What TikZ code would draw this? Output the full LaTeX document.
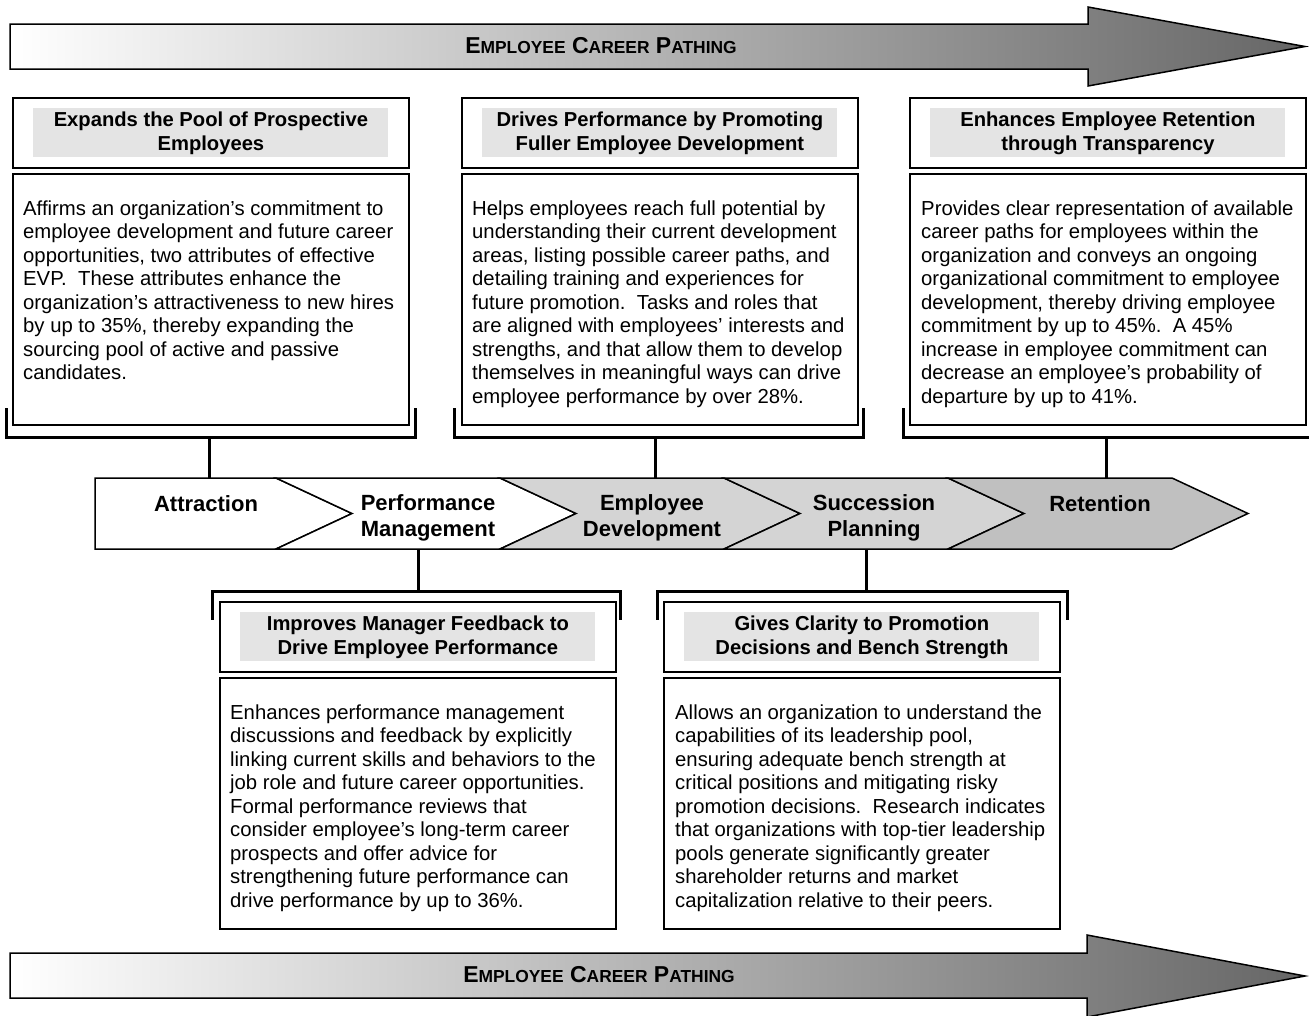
\documentclass[tikz,border=0pt]{standalone}
\usepackage{fontspec}
\setmainfont{Liberation Sans}
\definecolor{bandgray}{HTML}{E4E4E4}
\definecolor{arrowgray}{HTML}{666666}
\definecolor{chevdot}{HTML}{D4D4D4}
\definecolor{chevret}{HTML}{C0C0C0}
\newcommand{\myBody}{\fontsize{20.3}{23.5}\selectfont}
\newcommand{\myHead}{\bfseries\fontsize{20.2}{24}\selectfont}
\newcommand{\myChev}{\bfseries\fontsize{22}{26}\selectfont}
\newcommand{\mySmall}[1]{{\fontsize{17.4}{24}\selectfont #1}}
\newcommand{\myECP}{\bfseries\fontsize{23}{24}\selectfont E\mySmall{MPLOYEE} C\mySmall{AREER} P\mySmall{ATHING}}
\tikzset{
  hdrbox/.style={draw, line width=1.8pt, minimum width=396pt, minimum height=70pt, inner sep=0pt, anchor=north west},
  bandbox/.style={fill=bandgray, minimum width=355pt, minimum height=49pt, inner sep=0pt, font=\myHead, align=center},
  bodybox/.style={draw, line width=1.8pt, minimum width=396pt, minimum height=251pt, inner sep=0pt, anchor=north west},
  btext/.style={anchor=north west, align=left, inner sep=0pt, font=\myBody},
  brk/.style={draw, line width=3pt, line cap=rect},
  conn/.style={draw, line width=3pt},
  bigarrow/.style={draw=black, line width=1.5pt, left color=white, right color=arrowgray},
  chevw/.style={draw, line width=1.5pt, fill=white},
  chevd/.style={draw, line width=1.5pt, fill=chevdot},
  chevr/.style={draw, line width=1.5pt, fill=chevret},
  chevlabel/.style={anchor=north, align=center, inner sep=0pt, font=\myChev},
}
\begin{document}
\begin{tikzpicture}[x=1pt,y=-1pt]
\useasboundingbox (0,0) rectangle (1309,1015);

% top arrow
\path[bigarrow] (10,24) -- (1088,24) -- (1088,7) -- (1305,46.5) -- (1088,86) -- (1088,69) -- (10,69) -- cycle;
\node[inner sep=0pt] (ecpTop) at (601,46) {\myECP};

% bottom arrow
\path[bigarrow] (10,953) -- (1087,953) -- (1087,935) -- (1305,976) -- (1087,1017) -- (1087,998) -- (10,998) -- cycle;
\node[inner sep=0pt] (ecpBot) at (599,975) {\myECP};

% top boxes
\node[hdrbox] (h1) at (12,97) {};
\node[bandbox] (band1) at (h1.center) {Expands the Pool of Prospective\\Employees};
\node[bodybox] (bx1) at (12,173) {};
\node[btext] (t1) at (23,198.5) {\strut Affirms an organization’s commitment to\\employee development and future career\\opportunities, two attributes of effective\\EVP.\ \ These attributes enhance the\\organization’s attractiveness to new hires\\by up to 35\%, thereby expanding the\\sourcing pool of active and passive\\candidates.};

\node[hdrbox] (h2) at (461,97) {};
\node[bandbox] (band2) at (h2.center) {Drives Performance by Promoting\\Fuller Employee Development};
\node[bodybox] (bx2) at (461,173) {};
\node[btext] (t2) at (472,198.5) {\strut Helps employees reach full potential by\\understanding their current development\\areas, listing possible career paths, and\\detailing training and experiences for\\future promotion.\ \ Tasks and roles that\\are aligned with employees’ interests and\\strengths, and that allow them to develop\\themselves in meaningful ways can drive\\employee performance by over 28\%.};

\node[hdrbox] (h3) at (909,97) {};
\node[bandbox] (band3) at (h3.center) {Enhances Employee Retention\\through Transparency};
\node[bodybox] (bx3) at (909,173) {};
\node[btext] (t3) at (921,198.5) {\strut Provides clear representation of available\\career paths for employees within the\\organization and conveys an ongoing\\organizational commitment to employee\\development, thereby driving employee\\commitment by up to 45\%.\ \ A 45\%\\increase in employee commitment can\\decrease an employee’s probability of\\departure by up to 41\%.};

% top brackets
\draw[brk] (6,409) -- (6,437) -- (415,437) -- (415,409);
\draw[brk] (454,409) -- (454,437) -- (863,437) -- (863,409);
\draw[brk] (903,409) -- (903,437) -- (1315,437) -- (1315,409);

% chevrons
\path[chevw] (95,478) -- (276,478) -- (352,513.5) -- (276,549) -- (95,549) -- cycle;
\path[chevw] (276,478) -- (500,478) -- (576,513.5) -- (500,549) -- (276,549) -- (352,513.5) -- cycle;
\path[chevd] (500,478) -- (724,478) -- (800,513.5) -- (724,549) -- (500,549) -- (576,513.5) -- cycle;
\path[chevd] (724,478) -- (948,478) -- (1024,513.5) -- (948,549) -- (724,549) -- (800,513.5) -- cycle;
\path[chevr] (948,478) -- (1172,478) -- (1248,513.5) -- (1172,549) -- (948,549) -- (1024,513.5) -- cycle;

\node[chevlabel] (l1) at (206,493) {\strut Attraction};
\node[chevlabel] (l2) at (428,492) {\strut Performance\\Management};
\node[chevlabel] (l3) at (652,492) {\strut Employee\\Development};
\node[chevlabel] (l4) at (874,492) {\strut Succession\\Planning};
\node[chevlabel] (l5) at (1100,493) {\strut Retention};

% connectors top
\coordinate (k1) at (209,437); \coordinate (c1) at (209,478);
\coordinate (k2) at (655,437); \coordinate (c2) at (655,478);
\coordinate (k3) at (1106,437); \coordinate (c3) at (1106,478);
\draw[conn] (k1) -- (c1);
\draw[conn] (k2) -- (c2);
\draw[conn] (k3) -- (c3);

% connectors bottom
\coordinate (c4) at (418,549); \coordinate (k4) at (418,591);
\coordinate (c5) at (866,549); \coordinate (k5) at (866,591);
\draw[conn] (c4) -- (k4);
\draw[conn] (c5) -- (k5);

% bottom brackets
\draw[brk] (212,618) -- (212,591) -- (620,591) -- (620,618);
\draw[brk] (657,618) -- (657,591) -- (1067,591) -- (1067,618);

% bottom boxes
\node[hdrbox] (h4) at (219,601) {};
\node[bandbox] (band4) at (h4.center) {Improves Manager Feedback to\\Drive Employee Performance};
\node[bodybox] (bx4) at (219,677) {};
\node[btext] (t4) at (230,702.5) {\strut Enhances performance management\\discussions and feedback by explicitly\\linking current skills and behaviors to the\\job role and future career opportunities.\\Formal performance reviews that\\consider employee’s long-term career\\prospects and offer advice for\\strengthening future performance can\\drive performance by up to 36\%.};

\node[hdrbox] (h5) at (663,601) {};
\node[bandbox] (band5) at (h5.center) {Gives Clarity to Promotion\\Decisions and Bench Strength};
\node[bodybox] (bx5) at (663,677) {};
\node[btext] (t5) at (675,702.5) {\strut Allows an organization to understand the\\capabilities of its leadership pool,\\ensuring adequate bench strength at\\critical positions and mitigating risky\\promotion decisions.\ \ Research indicates\\that organizations with top-tier leadership\\pools generate significantly greater\\shareholder returns and market\\capitalization relative to their peers.};
\end{tikzpicture}
\end{document}
